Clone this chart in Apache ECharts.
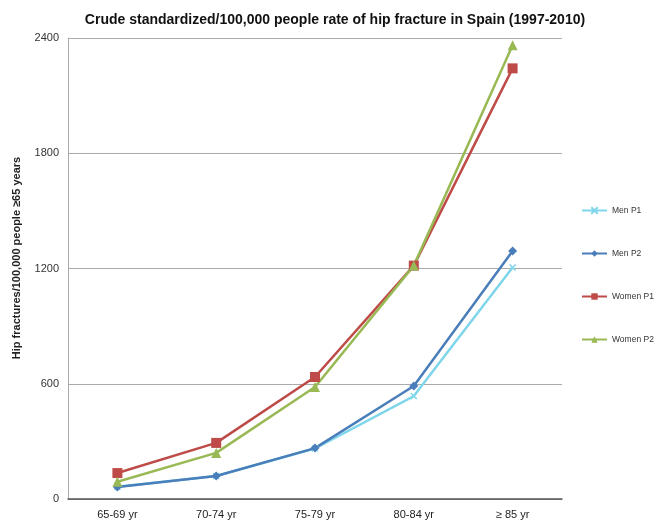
<!DOCTYPE html>
<html>
<head>
<meta charset="utf-8">
<script src="https://cdn.jsdelivr.net/npm/echarts@6/dist/echarts.min.js"></script>
<style>
  html, body { margin: 0; padding: 0; background: #fff; }
  #chart { width: 659px; height: 521px; }
</style>
</head>
<body>
<div id="chart"></div>
<script>
// Age groups on the x axis
var ageGroups = ['65-69 yr', '70-74 yr', '75-79 yr', '80-84 yr', '\u2265 85 yr'];

// Hip fracture rates per 100,000 people, by sex and period
var menP1 = [64, 120, 263, 536, 1205];
var menP2 = [62, 120, 265, 588, 1291];
var womenP1 = [135, 292, 635, 1215, 2242];
var womenP2 = [90, 240, 583, 1215, 2362];

var yTicks = [0, 600, 1200, 1800, 2400];

var font = 'Liberation Sans, Arial, Helvetica, sans-serif';
var crossPath = 'path://M0,0 L10,10 M10,0 L0,10';

function lineSeries(name, data, color, symbol, size) {
  return {
    name: name,
    type: 'line',
    data: data,
    symbol: symbol,
    symbolSize: size,
    showSymbol: true,
    lineStyle: { color: color, width: 2.5 },
    itemStyle: { color: color, borderColor: color, borderWidth: symbol === crossPath ? 1.5 : 0 },
    emphasis: { disabled: true },
    z: 3
  };
}

var chart = echarts.init(document.getElementById('chart'), null, { renderer: 'canvas' });
chart.setOption({
  animation: false,
  backgroundColor: '#ffffff',
  title: {
    text: 'Crude standardized/100,000 people rate of hip fracture in Spain (1997-2010)',
    left: 330,
    textAlign: 'center',
    top: 8,
    textStyle: { fontFamily: font, fontSize: 14, fontWeight: 'bold', color: '#111' }
  },
  legend: {
    orient: 'vertical',
    left: 576,
    top: 201,
    itemGap: 34,
    itemWidth: 25,
    itemHeight: 8,
    textStyle: { fontFamily: font, fontSize: 8.5, color: '#333' },
    data: ['Men P1', 'Men P2', 'Women P1', 'Women P2']
  },
  graphic: [{
    type: 'text',
    x: 17,
    y: 258,
    rotation: Math.PI / 2,
    style: {
      text: 'Hip fractures/100,000 people \u226565 years',
      font: 'bold 11px ' + font,
      fill: '#222',
      align: 'center',
      verticalAlign: 'middle'
    }
  }],
  grid: { left: 68, right: 97, top: 38, bottom: 22, containLabel: false },
  xAxis: {
    type: 'category',
    data: ageGroups,
    boundaryGap: true,
    axisLine: { lineStyle: { color: '#555', width: 1.5 } },
    axisTick: { show: false },
    axisLabel: { fontFamily: font, fontSize: 11, color: '#222', margin: 10 }
  },
  yAxis: {
    type: 'value',
    min: yTicks[0],
    max: yTicks[yTicks.length - 1],
    interval: 600,
    axisLine: { show: true, lineStyle: { color: '#aaa', width: 1 } },
    axisTick: { show: false },
    axisLabel: {
      fontFamily: font, fontSize: 11, color: '#333', margin: 9,
      formatter: function (v) { return String(v); }
    },
    splitLine: { lineStyle: { color: '#aaa', width: 1.2 } }
  },
  series: [
    lineSeries('Men P1', menP1, '#7fd6ea', crossPath, 6),
    lineSeries('Men P2', menP2, '#4a7ebb', 'diamond', 9),
    lineSeries('Women P1', womenP1, '#be4b48', 'rect', 10),
    lineSeries('Women P2', womenP2, '#98b954', 'triangle', 10)
  ]
});
</script>
</body>
</html>
